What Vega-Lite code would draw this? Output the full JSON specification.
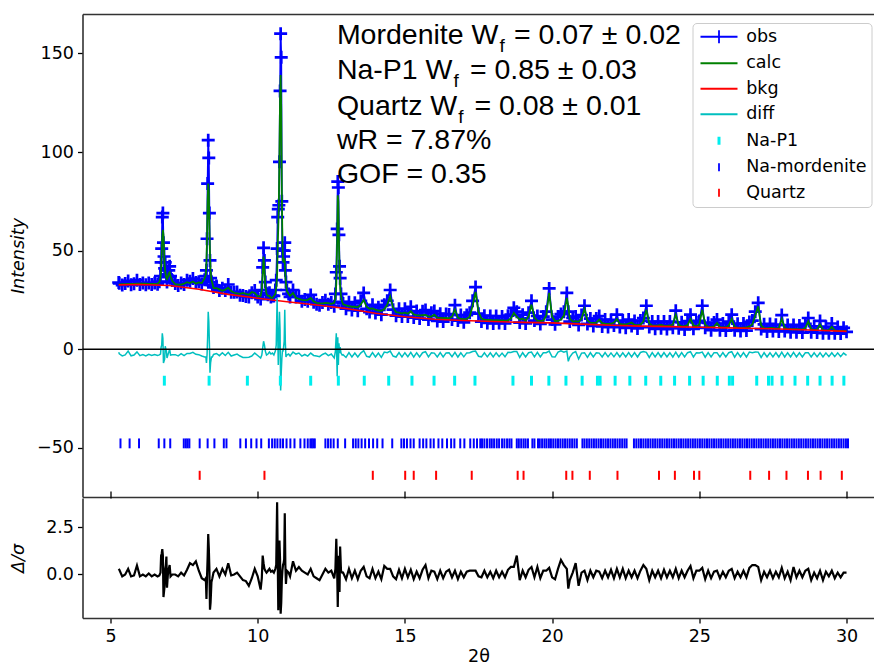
{
"$schema":"https://vega.github.io/schema/vega-lite/v6.json",
"padding":{"left":9.5,"top":14,"right":0,"bottom":0},
"background":"white",
"spacing":-7,
"datasets":{
"pat":[
{"t":5.28,"o":33.8,"c":32.9,"d":-1.6,"r":0.3},{"t":5.3,"o":33.4,"c":32.9,"d":-2.4,"r":0.25},{"t":5.4,"o":32.5,"c":33.0,"d":-3.4,"r":-0.1},{"t":5.5,"o":33.3,"c":33.0,"d":-2.9,"r":0.0},{"t":5.6,"o":34.6,"c":33.1,"d":-1.0,"r":0.3},{"t":5.7,"o":32.7,"c":33.1,"d":-3.4,"r":-0.1},{"t":5.8,"o":33.2,"c":33.1,"d":-3.0,"r":-0.05},{"t":5.9,"o":35.0,"c":33.2,"d":-1.4,"r":0.48},{"t":6.0,"o":32.8,"c":33.2,"d":-3.3,"r":-0.1},{"t":6.1,"o":33.5,"c":33.2,"d":-2.8,"r":0.0},{"t":6.2,"o":32.7,"c":33.2,"d":-3.4,"r":-0.1},{"t":6.3,"o":33.6,"c":33.1,"d":-2.6,"r":0.05},{"t":6.4,"o":32.8,"c":33.1,"d":-3.2,"r":-0.1},{"t":6.5,"o":33.5,"c":33.1,"d":-2.7,"r":0.0},{"t":6.6,"o":32.9,"c":33.2,"d":-3.2,"r":-0.1},
{"t":6.66,"o":34.2,"c":34.0,"d":-2.9,"r":-0.05},{"t":6.70,"o":37.0,"c":36.5,"d":-2.5,"r":0.1},{"t":6.72,"o":44.0,"c":41.0,"d":1.0,"r":1.0},{"t":6.74,"o":51.0,"c":48.0,"d":2.0,"r":1.1},{"t":6.76,"o":67.0,"c":57.0,"d":8.0,"r":1.35},{"t":6.78,"o":69.0,"c":60.5,"d":5.5,"r":1.0},{"t":6.80,"o":54.0,"c":58.0,"d":-7.0,"r":-1.2},{"t":6.82,"o":47.0,"c":50.0,"d":-6.0,"r":-0.9},{"t":6.84,"o":41.0,"c":43.0,"d":-5.0,"r":-0.6},{"t":6.86,"o":44.0,"c":39.5,"d":1.5,"r":0.3},{"t":6.88,"o":40.0,"c":37.5,"d":0.0,"r":0.5},{"t":6.90,"o":38.0,"c":36.0,"d":-1.0,"r":0.95},{"t":6.92,"o":34.0,"c":35.5,"d":-4.5,"r":-0.7},{"t":6.95,"o":36.5,"c":36.5,"d":-3.0,"r":0.0},{"t":6.98,"o":40.0,"c":38.5,"d":-1.5,"r":0.3},{"t":7.01,"o":42.0,"c":39.0,"d":0.0,"r":0.5},{"t":7.04,"o":37.0,"c":37.0,"d":-3.0,"r":-0.1},
{"t":7.1,"o":34.8,"c":34.5,"d":-2.8,"r":0.0},{"t":7.2,"o":33.3,"c":33.0,"d":-2.8,"r":0.0},{"t":7.3,"o":32.3,"c":32.8,"d":-3.4,"r":-0.1},{"t":7.4,"o":33.5,"c":32.7,"d":-2.3,"r":0.1},{"t":7.5,"o":32.8,"c":33.2,"d":-3.3,"r":-0.05},{"t":7.6,"o":35.0,"c":34.0,"d":-2.2,"r":0.25},{"t":7.7,"o":34.5,"c":33.5,"d":-2.2,"r":0.6},{"t":7.8,"o":35.8,"c":34.3,"d":-1.6,"r":0.5},{"t":7.9,"o":33.8,"c":33.2,"d":-2.6,"r":0.7},{"t":8.0,"o":34.2,"c":33.8,"d":-2.8,"r":0.2},{"t":8.1,"o":33.0,"c":33.5,"d":-3.5,"r":-0.2},{"t":8.2,"o":35.2,"c":36.0,"d":-4.0,"r":-0.3},
{"t":8.24,"o":37.0,"c":38.0,"d":-4.0,"r":-0.2},{"t":8.26,"o":40.0,"c":44.0,"d":-7.0,"r":-1.3},{"t":8.28,"o":56.0,"c":56.0,"d":-3.0,"r":-0.1},{"t":8.30,"o":84.0,"c":75.0,"d":6.0,"r":0.9},{"t":8.32,"o":106.0,"c":84.0,"d":19.0,"r":2.15},{"t":8.34,"o":97.0,"c":80.0,"d":14.0,"r":1.4},{"t":8.36,"o":69.0,"c":63.0,"d":3.0,"r":0.3},{"t":8.38,"o":45.0,"c":48.0,"d":-12.0,"r":-1.87},{"t":8.40,"o":36.0,"c":40.0,"d":-7.0,"r":-1.5},{"t":8.43,"o":34.0,"c":35.0,"d":-4.0,"r":-0.4},{"t":8.46,"o":32.5,"c":33.5,"d":-4.0,"r":-0.2},
{"t":8.5,"o":31.3,"c":31.0,"d":-2.7,"r":0.1},{"t":8.6,"o":32.0,"c":31.0,"d":-2.2,"r":0.3},{"t":8.7,"o":29.8,"c":30.3,"d":-3.3,"r":-0.1},{"t":8.8,"o":30.9,"c":29.6,"d":-1.8,"r":0.3},{"t":8.9,"o":29.8,"c":30.2,"d":-3.2,"r":0.0},{"t":9.0,"o":32.8,"c":31.2,"d":-1.6,"r":0.6},{"t":9.1,"o":28.8,"c":29.5,"d":-3.5,"r":-0.05},{"t":9.2,"o":28.9,"c":28.6,"d":-3.0,"r":0.0},{"t":9.3,"o":29.0,"c":28.3,"d":-2.5,"r":0.1},{"t":9.4,"o":27.3,"c":28.0,"d":-3.5,"r":-0.1},{"t":9.5,"o":27.2,"c":28.5,"d":-4.2,"r":-0.3},{"t":9.6,"o":26.7,"c":28.0,"d":-4.2,"r":-0.35},{"t":9.7,"o":26.4,"c":27.6,"d":-4.1,"r":-0.6},{"t":9.8,"o":28.6,"c":29.0,"d":-3.5,"r":-0.2},{"t":9.9,"o":29.7,"c":28.5,"d":-2.0,"r":0.3},{"t":10.0,"o":26.5,"c":26.8,"d":-3.2,"r":-0.1},{"t":10.1,"o":25.4,"c":27.0,"d":-4.5,"r":-0.8},
{"t":10.14,"o":30.0,"c":30.0,"d":-3.0,"r":-0.2},{"t":10.17,"o":41.5,"c":38.0,"d":0.5,"r":1.0},{"t":10.20,"o":51.4,"c":47.0,"d":4.0,"r":0.6},{"t":10.23,"o":45.0,"c":40.0,"d":2.0,"r":0.3},{"t":10.26,"o":34.0,"c":32.0,"d":-1.0,"r":0.2},{"t":10.3,"o":28.3,"c":28.0,"d":-3.0,"r":0.1},{"t":10.35,"o":27.6,"c":27.0,"d":-2.5,"r":0.2},{"t":10.4,"o":28.6,"c":27.0,"d":-1.5,"r":0.3},{"t":10.45,"o":26.4,"c":26.0,"d":-2.5,"r":0.15},{"t":10.5,"o":27.1,"c":26.0,"d":-2.0,"r":0.2},{"t":10.55,"o":27.0,"c":27.0,"d":-3.0,"r":0.1},{"t":10.6,"o":30.0,"c":28.0,"d":-1.0,"r":0.3},
{"t":10.63,"o":35.0,"c":31.0,"d":2.0,"r":0.5},{"t":10.66,"o":51.0,"c":38.0,"d":26.0,"r":3.83},{"t":10.68,"o":67.0,"c":52.0,"d":8.0,"r":1.0},{"t":10.70,"o":71.0,"c":62.0,"d":-8.0,"r":-1.9},{"t":10.72,"o":73.0,"c":75.0,"d":5.0,"r":0.5},{"t":10.74,"o":95.0,"c":100.0,"d":19.0,"r":1.8},{"t":10.76,"o":131.0,"c":128.0,"d":10.0,"r":0.8},{"t":10.78,"o":160.0,"c":139.0,"d":-21.0,"r":-2.08},{"t":10.80,"o":148.0,"c":122.0,"d":-12.0,"r":-1.5},{"t":10.82,"o":75.0,"c":80.0,"d":-5.0,"r":-0.3},{"t":10.84,"o":50.0,"c":55.0,"d":-1.0,"r":0.2},{"t":10.86,"o":44.0,"c":45.0,"d":-1.0,"r":0.5},{"t":10.88,"o":47.0,"c":44.0,"d":1.0,"r":0.6},{"t":10.90,"o":50.0,"c":46.0,"d":4.0,"r":0.8},{"t":10.92,"o":54.0,"c":44.0,"d":20.0,"r":3.25},{"t":10.94,"o":40.0,"c":38.0,"d":3.0,"r":0.5},{"t":10.96,"o":34.0,"c":33.0,"d":-4.0,"r":-0.5},{"t":10.99,"o":30.0,"c":29.5,"d":-3.0,"r":0.2},
{"t":11.05,"o":28.0,"c":28.0,"d":-2.5,"r":0.1},{"t":11.1,"o":26.5,"c":27.0,"d":-3.5,"r":-0.1},{"t":11.2,"o":30.0,"c":28.5,"d":-1.5,"r":0.7},{"t":11.3,"o":26.5,"c":26.0,"d":-2.5,"r":0.2},{"t":11.4,"o":26.8,"c":25.5,"d":-2.0,"r":0.4},{"t":11.5,"o":24.3,"c":25.0,"d":-3.5,"r":0.2},{"t":11.6,"o":25.2,"c":24.7,"d":-2.7,"r":0.1},{"t":11.7,"o":24.3,"c":25.0,"d":-3.5,"r":0.0},{"t":11.8,"o":27.5,"c":26.0,"d":-2.0,"r":0.3},{"t":11.9,"o":23.8,"c":24.2,"d":-3.2,"r":-0.1},{"t":12.0,"o":22.8,"c":23.5,"d":-3.5,"r":-0.2},{"t":12.1,"o":22.3,"c":23.3,"d":-3.8,"r":-0.3},{"t":12.2,"o":23.6,"c":23.2,"d":-2.7,"r":0.0},{"t":12.3,"o":24.8,"c":23.5,"d":-2.0,"r":0.3},{"t":12.4,"o":22.8,"c":23.3,"d":-3.3,"r":0.1},{"t":12.5,"o":23.7,"c":23.0,"d":-2.5,"r":0.2},{"t":12.6,"o":21.8,"c":23.5,"d":-4.5,"r":-0.2},
{"t":12.64,"o":28.0,"c":26.0,"d":-1.0,"r":0.3},{"t":12.67,"o":39.0,"c":33.0,"d":8.0,"r":1.89},{"t":12.70,"o":61.0,"c":55.0,"d":-13.8,"r":0.2},{"t":12.72,"o":85.0,"c":78.0,"d":6.0,"r":-1.73},{"t":12.74,"o":82.0,"c":75.0,"d":-8.0,"r":0.3},{"t":12.76,"o":58.0,"c":55.0,"d":3.0,"r":1.0},{"t":12.78,"o":42.0,"c":40.0,"d":-2.0,"r":-0.93},{"t":12.80,"o":36.0,"c":32.0,"d":1.0,"r":1.48},{"t":12.83,"o":28.0,"c":27.0,"d":-2.0,"r":0.2},{"t":12.87,"o":24.0,"c":24.0,"d":-3.0,"r":0.1},{"t":12.9,"o":23.2,"c":22.8,"d":-2.8,"r":0.1},
{"t":13.0,"o":20.5,"c":22.2,"d":-4.2,"r":-0.25},{"t":13.1,"o":23.8,"c":21.8,"d":-1.8,"r":0.3},{"t":13.2,"o":19.8,"c":21.5,"d":-4.0,"r":-0.2},{"t":13.3,"o":23.5,"c":21.6,"d":-2.0,"r":0.2},{"t":13.4,"o":19.5,"c":21.2,"d":-4.0,"r":-0.25},{"t":13.5,"o":24.5,"c":22.5,"d":-2.0,"r":0.2},{"t":13.6,"o":28.5,"c":25.0,"d":-0.8,"r":0.4},{"t":13.7,"o":20.5,"c":21.5,"d":-3.6,"r":-0.1},{"t":13.8,"o":18.8,"c":20.5,"d":-4.0,"r":-0.2},{"t":13.9,"o":22.5,"c":20.6,"d":-1.8,"r":0.3},{"t":14.0,"o":18.3,"c":20.0,"d":-4.0,"r":-0.2},{"t":14.1,"o":21.3,"c":19.6,"d":-2.0,"r":0.15},{"t":14.2,"o":17.5,"c":19.4,"d":-4.2,"r":-0.25},{"t":14.3,"o":22.5,"c":20.2,"d":-1.5,"r":0.45},{"t":14.4,"o":24.5,"c":22.5,"d":-1.8,"r":0.3},{"t":14.5,"o":30.0,"c":26.8,"d":-1.0,"r":0.3},{"t":14.6,"o":20.0,"c":21.0,"d":-3.5,"r":-0.1},{"t":14.7,"o":17.0,"c":18.8,"d":-4.0,"r":-0.25},{"t":14.8,"o":20.5,"c":18.5,"d":-1.8,"r":0.25},{"t":14.9,"o":16.5,"c":18.2,"d":-4.0,"r":-0.2},
{"t":15.0,"o":20.5,"c":18.5,"d":-1.8,"r":0.3},{"t":15.1,"o":16.5,"c":18.0,"d":-3.8,"r":-0.15},{"t":15.2,"o":21.5,"c":19.2,"d":-1.6,"r":0.25},{"t":15.3,"o":16.0,"c":17.6,"d":-4.0,"r":-0.25},{"t":15.4,"o":19.3,"c":17.3,"d":-1.8,"r":0.15},{"t":15.5,"o":15.5,"c":17.1,"d":-3.9,"r":-0.2},{"t":15.6,"o":19.2,"c":17.2,"d":-1.8,"r":0.25},{"t":15.7,"o":19.8,"c":17.3,"d":-1.3,"r":0.5},{"t":15.8,"o":15.0,"c":16.6,"d":-3.9,"r":-0.2},{"t":15.9,"o":18.5,"c":16.5,"d":-1.8,"r":0.2},{"t":16.0,"o":19.3,"c":17.5,"d":-2.0,"r":0.15},{"t":16.1,"o":14.3,"c":16.0,"d":-4.0,"r":-0.25},{"t":16.2,"o":18.0,"c":15.9,"d":-1.8,"r":0.2},{"t":16.3,"o":14.0,"c":15.7,"d":-4.0,"r":-0.2},{"t":16.4,"o":17.8,"c":15.8,"d":-1.9,"r":0.15},{"t":16.5,"o":17.6,"c":15.6,"d":-1.8,"r":0.25},{"t":16.6,"o":15.0,"c":16.5,"d":-3.8,"r":-0.15},{"t":16.7,"o":22.3,"c":20.0,"d":-1.6,"r":0.2},{"t":16.8,"o":14.5,"c":16.0,"d":-4.0,"r":-0.25},{"t":16.9,"o":17.3,"c":15.3,"d":-1.9,"r":0.15},
{"t":17.0,"o":13.6,"c":15.2,"d":-3.9,"r":-0.15},{"t":17.1,"o":17.3,"c":15.3,"d":-1.9,"r":0.15},{"t":17.2,"o":18.5,"c":16.5,"d":-1.8,"r":0.2},{"t":17.3,"o":24.5,"c":22.0,"d":-1.2,"r":0.2},{"t":17.4,"o":31.5,"c":29.0,"d":-1.0,"r":0.2},{"t":17.5,"o":18.0,"c":19.0,"d":-3.6,"r":-0.1},{"t":17.6,"o":14.0,"c":15.5,"d":-3.9,"r":-0.15},{"t":17.7,"o":17.0,"c":15.0,"d":-1.8,"r":0.2},{"t":17.8,"o":13.3,"c":14.8,"d":-3.9,"r":-0.15},{"t":17.9,"o":16.8,"c":14.8,"d":-1.9,"r":0.15},{"t":18.0,"o":13.0,"c":14.6,"d":-4.0,"r":-0.2},{"t":18.1,"o":16.8,"c":14.7,"d":-1.8,"r":0.2},{"t":18.2,"o":13.2,"c":14.6,"d":-3.8,"r":-0.15},{"t":18.3,"o":16.5,"c":14.6,"d":-2.0,"r":0.15},{"t":18.4,"o":13.0,"c":14.5,"d":-3.9,"r":-0.15},{"t":18.5,"o":17.0,"c":14.6,"d":-1.6,"r":0.25},{"t":18.6,"o":17.5,"c":15.5,"d":-1.7,"r":0.4},{"t":18.7,"o":21.0,"c":18.4,"d":-1.2,"r":0.4},{"t":18.8,"o":19.0,"c":16.5,"d":-1.2,"r":1.0},{"t":18.9,"o":13.5,"c":15.0,"d":-4.2,"r":-0.3},
{"t":19.0,"o":17.5,"c":15.5,"d":-1.8,"r":0.2},{"t":19.1,"o":13.0,"c":14.5,"d":-3.9,"r":-0.15},{"t":19.2,"o":18.5,"c":16.5,"d":-1.8,"r":0.25},{"t":19.3,"o":24.5,"c":22.6,"d":-1.5,"r":0.4},{"t":19.4,"o":14.5,"c":16.0,"d":-3.9,"r":-0.15},{"t":19.5,"o":16.8,"c":14.5,"d":-1.6,"r":0.4},{"t":19.6,"o":12.8,"c":14.3,"d":-3.9,"r":-0.2},{"t":19.7,"o":16.5,"c":14.5,"d":-1.8,"r":0.2},{"t":19.8,"o":19.0,"c":17.0,"d":-1.8,"r":0.2},{"t":19.9,"o":30.8,"c":28.5,"d":-1.0,"r":0.35},{"t":20.0,"o":15.0,"c":16.5,"d":-3.9,"r":-0.15},{"t":20.1,"o":12.6,"c":14.2,"d":-4.0,"r":-0.25},{"t":20.2,"o":16.5,"c":14.3,"d":-1.5,"r":0.3},{"t":20.3,"o":17.8,"c":15.0,"d":-0.8,"r":0.77},{"t":20.4,"o":19.0,"c":17.0,"d":-1.5,"r":0.5},{"t":20.5,"o":28.5,"c":26.0,"d":-1.0,"r":0.3},{"t":20.55,"o":19.0,"c":22.0,"d":-6.2,"r":-0.75},{"t":20.6,"o":14.0,"c":15.5,"d":-4.0,"r":-0.3},{"t":20.7,"o":15.8,"c":14.0,"d":-2.0,"r":0.1},{"t":20.8,"o":16.5,"c":14.2,"d":-1.2,"r":0.6},{"t":20.9,"o":12.3,"c":14.0,"d":-5.0,"r":-0.6},
{"t":21.0,"o":17.3,"c":15.5,"d":-2.0,"r":0.1},{"t":21.1,"o":22.0,"c":20.4,"d":-1.8,"r":0.2},{"t":21.2,"o":12.8,"c":14.5,"d":-4.2,"r":-0.3},{"t":21.3,"o":15.5,"c":13.4,"d":-1.8,"r":0.2},{"t":21.4,"o":11.8,"c":13.3,"d":-3.9,"r":-0.15},{"t":21.5,"o":15.5,"c":13.5,"d":-1.8,"r":0.2},{"t":21.6,"o":16.8,"c":15.0,"d":-2.0,"r":0.15},{"t":21.7,"o":11.5,"c":13.2,"d":-4.0,"r":-0.2},{"t":21.8,"o":15.0,"c":12.9,"d":-1.7,"r":0.2},{"t":21.9,"o":11.2,"c":12.8,"d":-3.9,"r":-0.15},{"t":22.0,"o":14.8,"c":12.9,"d":-1.9,"r":0.25},{"t":22.1,"o":12.0,"c":13.5,"d":-3.9,"r":-0.2},{"t":22.2,"o":17.5,"c":15.3,"d":-1.7,"r":0.3},{"t":22.3,"o":11.2,"c":12.8,"d":-3.9,"r":-0.15},{"t":22.4,"o":14.5,"c":12.5,"d":-1.8,"r":0.3},{"t":22.5,"o":10.8,"c":12.5,"d":-4.0,"r":-0.2},{"t":22.6,"o":15.0,"c":13.0,"d":-1.8,"r":0.2},{"t":22.7,"o":11.8,"c":13.5,"d":-4.0,"r":-0.15},{"t":22.8,"o":14.3,"c":12.3,"d":-1.8,"r":0.2},{"t":22.9,"o":10.5,"c":12.2,"d":-4.0,"r":-0.2},
{"t":23.0,"o":14.5,"c":12.4,"d":-1.7,"r":0.2},{"t":23.1,"o":15.8,"c":14.0,"d":-1.2,"r":0.5},{"t":23.2,"o":22.0,"c":20.0,"d":-1.6,"r":0.3},{"t":23.3,"o":11.2,"c":13.0,"d":-4.2,"r":-0.3},{"t":23.4,"o":14.0,"c":12.0,"d":-1.8,"r":0.2},{"t":23.5,"o":10.3,"c":11.9,"d":-4.0,"r":-0.15},{"t":23.6,"o":14.0,"c":12.0,"d":-1.8,"r":0.2},{"t":23.7,"o":10.6,"c":12.3,"d":-4.0,"r":-0.2},{"t":23.8,"o":14.0,"c":11.9,"d":-1.7,"r":0.25},{"t":23.9,"o":10.2,"c":11.8,"d":-3.9,"r":-0.15},{"t":24.0,"o":14.0,"c":12.0,"d":-1.8,"r":0.2},{"t":24.1,"o":10.8,"c":12.5,"d":-4.0,"r":-0.15},{"t":24.2,"o":19.5,"c":17.5,"d":-1.5,"r":0.3},{"t":24.3,"o":10.6,"c":12.3,"d":-4.0,"r":-0.2},{"t":24.4,"o":13.6,"c":11.6,"d":-1.8,"r":0.2},{"t":24.5,"o":10.0,"c":11.7,"d":-4.0,"r":-0.15},{"t":24.6,"o":14.2,"c":12.2,"d":-1.8,"r":0.2},{"t":24.7,"o":17.5,"c":15.3,"d":-1.3,"r":0.45},{"t":24.8,"o":10.3,"c":12.0,"d":-4.0,"r":-0.2},{"t":24.9,"o":13.6,"c":11.6,"d":-1.8,"r":0.2},
{"t":25.0,"o":14.3,"c":12.5,"d":-2.0,"r":0.2},{"t":25.1,"o":22.0,"c":20.0,"d":-1.5,"r":0.35},{"t":25.2,"o":10.8,"c":12.5,"d":-4.1,"r":-0.25},{"t":25.3,"o":13.3,"c":11.3,"d":-1.8,"r":0.2},{"t":25.4,"o":9.6,"c":11.2,"d":-4.0,"r":-0.2},{"t":25.5,"o":13.5,"c":11.5,"d":-1.8,"r":0.15},{"t":25.6,"o":15.0,"c":13.3,"d":-1.8,"r":0.2},{"t":25.7,"o":9.6,"c":11.2,"d":-4.0,"r":-0.2},{"t":25.8,"o":13.0,"c":11.0,"d":-1.8,"r":0.15},{"t":25.9,"o":9.4,"c":11.0,"d":-4.0,"r":-0.15},{"t":26.0,"o":14.0,"c":12.0,"d":-1.8,"r":0.2},{"t":26.1,"o":17.5,"c":15.3,"d":-1.3,"r":0.3},{"t":26.2,"o":9.6,"c":11.3,"d":-4.1,"r":-0.2},{"t":26.3,"o":12.9,"c":10.9,"d":-1.8,"r":0.15},{"t":26.4,"o":9.2,"c":10.8,"d":-4.0,"r":-0.15},{"t":26.5,"o":13.0,"c":10.9,"d":-1.8,"r":0.2},{"t":26.6,"o":9.4,"c":11.0,"d":-4.0,"r":-0.15},{"t":26.7,"o":13.8,"c":11.5,"d":-1.5,"r":0.35},{"t":26.8,"o":14.5,"c":12.5,"d":-1.8,"r":0.5},{"t":26.9,"o":19.0,"c":17.0,"d":-1.4,"r":0.5},
{"t":27.0,"o":23.5,"c":21.7,"d":-1.5,"r":0.4},{"t":27.1,"o":10.2,"c":12.0,"d":-4.2,"r":-0.3},{"t":27.2,"o":12.6,"c":10.6,"d":-1.8,"r":0.15},{"t":27.3,"o":9.0,"c":10.5,"d":-3.9,"r":-0.15},{"t":27.4,"o":12.8,"c":10.8,"d":-1.8,"r":0.2},{"t":27.5,"o":9.2,"c":10.8,"d":-4.0,"r":-0.2},{"t":27.6,"o":12.4,"c":10.4,"d":-1.8,"r":0.15},{"t":27.7,"o":9.0,"c":10.6,"d":-4.0,"r":-0.15},{"t":27.8,"o":17.3,"c":15.3,"d":-1.5,"r":0.35},{"t":27.9,"o":9.2,"c":10.8,"d":-4.0,"r":-0.2},{"t":28.0,"o":12.2,"c":10.2,"d":-1.8,"r":0.15},{"t":28.1,"o":8.6,"c":10.1,"d":-3.9,"r":-0.3},{"t":28.2,"o":12.3,"c":10.2,"d":-1.6,"r":0.4},{"t":28.3,"o":8.6,"c":10.1,"d":-3.9,"r":-0.15},{"t":28.4,"o":12.0,"c":10.0,"d":-1.8,"r":0.2},{"t":28.5,"o":8.4,"c":10.0,"d":-3.9,"r":-0.15},{"t":28.6,"o":12.8,"c":10.8,"d":-1.8,"r":0.2},{"t":28.7,"o":15.8,"c":14.1,"d":-1.8,"r":0.3},{"t":28.8,"o":8.6,"c":10.2,"d":-4.0,"r":-0.3},{"t":28.9,"o":11.6,"c":9.7,"d":-1.9,"r":0.1},
{"t":29.0,"o":8.4,"c":10.0,"d":-3.9,"r":-0.2},{"t":29.1,"o":14.3,"c":12.5,"d":-1.8,"r":0.2},{"t":29.2,"o":8.1,"c":9.7,"d":-4.0,"r":-0.3},{"t":29.3,"o":11.4,"c":9.5,"d":-1.9,"r":0.15},{"t":29.4,"o":8.1,"c":9.6,"d":-3.8,"r":-0.1},{"t":29.5,"o":13.0,"c":11.3,"d":-1.8,"r":0.2},{"t":29.6,"o":8.0,"c":9.5,"d":-3.8,"r":-0.2},{"t":29.7,"o":11.2,"c":9.3,"d":-1.9,"r":0.1},{"t":29.8,"o":7.9,"c":9.3,"d":-3.8,"r":-0.15},{"t":29.9,"o":10.8,"c":9.2,"d":-2.0,"r":0.1},{"t":30.0,"o":8.8,"c":9.1,"d":-3.2,"r":0.1}
],
"bkg":[{"t":5.28,"b":32.6},{"t":6,"b":32.8},{"t":7,"b":32.3},{"t":8,"b":30.4},{"t":9,"b":27.8},{"t":10,"b":25.8},{"t":11,"b":24.0},{"t":12,"b":22.4},{"t":13,"b":20.6},{"t":14,"b":18.2},{"t":15,"b":16.4},{"t":16,"b":15.2},{"t":17,"b":14.5},{"t":18,"b":14.0},{"t":19,"b":13.6},{"t":20,"b":13.3},{"t":21,"b":12.7},{"t":22,"b":12.1},{"t":23,"b":11.7},{"t":24,"b":11.4},{"t":25,"b":11.1},{"t":26,"b":10.8},{"t":27,"b":10.5},{"t":28,"b":10.1},{"t":29,"b":9.6},{"t":30,"b":9.0}],
"p1":[{"t":6.83},{"t":8.35},{"t":9.65},{"t":10.77},{"t":11.80},{"t":12.74},{"t":13.62},{"t":14.45},{"t":15.24},{"t":15.99},{"t":16.69},{"t":17.38},{"t":18.67},{"t":19.30},{"t":19.89},{"t":20.47},{"t":21.02},{"t":21.54},{"t":21.63},{"t":22.14},{"t":22.64},{"t":23.18},{"t":23.69},{"t":24.16},{"t":24.67},{"t":25.13},{"t":25.61},{"t":26.02},{"t":26.13},{"t":26.95},{"t":27.35},{"t":27.47},{"t":27.81},{"t":28.25},{"t":28.68},{"t":29.10},{"t":29.51},{"t":29.91}],
"qz":[{"t":8.03},{"t":10.23},{"t":13.91},{"t":15.01},{"t":15.30},{"t":16.06},{"t":17.27},{"t":18.83},{"t":19.03},{"t":20.48},{"t":20.69},{"t":21.28},{"t":22.22},{"t":23.63},{"t":24.17},{"t":24.82},{"t":25.00},{"t":26.73},{"t":27.37},{"t":27.96},{"t":28.69},{"t":29.12},{"t":29.84}],
"mor":[{"t":5.34},{"t":5.65},{"t":5.97},{"t":6.64},{"t":6.83},{"t":7.03},{"t":7.49},{"t":7.56},{"t":7.62},{"t":7.68},{"t":8.03},{"t":8.30},{"t":8.53},{"t":8.85},{"t":8.94},{"t":9.41},{"t":9.60},{"t":9.78},{"t":9.96},{"t":10.12},{"t":10.38},{"t":10.49},{"t":10.58},{"t":10.67},{"t":10.77},{"t":10.86},{"t":10.98},{"t":11.11},{"t":11.25},{"t":11.45},{"t":11.59},{"t":11.70},{"t":11.79},{"t":11.84},{"t":11.89},{"t":11.94},{"t":12.30},{"t":12.39},{"t":12.48},{"t":12.58},{"t":12.72},{"t":12.97},{"t":13.24},{"t":13.33},{"t":13.42},{"t":13.53},{"t":13.65},{"t":13.78},{"t":13.92},{"t":14.06},{"t":14.24},{"t":14.57},{"t":14.88},{"t":14.97},{"t":15.07},{"t":15.19},{"t":15.30},{"t":15.50},{"t":15.62},{"t":15.73},{"t":15.87},{"t":15.98},{"t":16.14},{"t":16.27},{"t":16.43},{"t":16.57},{"t":16.68},{"t":16.88},{"t":17.02},{"t":17.22},{"t":17.34},{"t":17.45},{"t":17.56},{"t":17.62},{"t":17.70},{"t":17.79},{"t":17.88},{"t":17.95},{"t":18.03},{"t":18.12},{"t":18.20},{"t":18.30},{"t":18.38},{"t":18.47},{"t":18.55},{"t":18.62},{"t":18.80},{"t":18.87},{"t":18.95},{"t":19.03},{"t":19.10},{"t":19.18},{"t":19.33},{"t":19.40},{"t":19.52},{"t":19.58},{"t":19.66},{"t":19.74},{"t":19.81},{"t":19.89},{"t":19.96},{"t":20.04},{"t":20.12},{"t":20.20},{"t":20.28},{"t":20.36},{"t":20.44},{"t":20.52},{"t":20.60},{"t":20.68},{"t":20.76},{"t":20.84},{"t":21.03},{"t":21.10},{"t":21.18},{"t":21.26},{"t":21.34},{"t":21.42},{"t":21.50},{"t":21.58},{"t":21.66},{"t":21.74},{"t":21.82},{"t":21.90},{"t":21.98},{"t":22.06},{"t":22.14},{"t":22.22},{"t":22.30},{"t":22.38},{"t":22.46},{"t":22.53},{"t":22.78},{"t":22.86},{"t":22.94},{"t":23.02},{"t":23.10},{"t":23.18},{"t":23.26},{"t":23.34},{"t":23.42},{"t":23.50},{"t":23.58},{"t":23.66},{"t":23.74},{"t":23.82},{"t":23.90},{"t":23.98},{"t":24.06},{"t":24.14},{"t":24.22},{"t":24.30},{"t":24.38},{"t":24.46},{"t":24.54},{"t":24.62},{"t":24.70},{"t":24.78},{"t":24.86},{"t":24.94},{"t":25.02},{"t":25.10},{"t":25.18},{"t":25.26},{"t":25.34},{"t":25.42},{"t":25.50},{"t":25.58},{"t":25.66},{"t":25.74},{"t":25.82},{"t":25.90},{"t":25.98},{"t":26.06},{"t":26.14},{"t":26.22},{"t":26.30},{"t":26.38},{"t":26.46},{"t":26.54},{"t":26.62},{"t":26.70},{"t":26.78},{"t":26.86},{"t":26.94},{"t":27.02},{"t":27.10},{"t":27.18},{"t":27.26},{"t":27.34},{"t":27.42},{"t":27.50},{"t":27.58},{"t":27.66},{"t":27.74},{"t":27.82},{"t":27.90},{"t":27.98},{"t":28.06},{"t":28.14},{"t":28.22},{"t":28.30},{"t":28.38},{"t":28.46},{"t":28.54},{"t":28.62},{"t":28.70},{"t":28.78},{"t":28.86},{"t":28.94},{"t":29.02},{"t":29.10},{"t":29.18},{"t":29.26},{"t":29.34},{"t":29.42},{"t":29.50},{"t":29.58},{"t":29.66},{"t":29.74},{"t":29.82},{"t":29.90},{"t":29.98},{"t":30.05}]
},
"config":{
"view":{"stroke":null},
"axis":{"labelFont":"DejaVu Sans","labelFontSize":17.5,"labelColor":"#000000","titleFont":"DejaVu Sans","titleFontSize":17.5,"titleFontWeight":"normal","titleColor":"#000000","grid":false,"domainColor":"#333333","domainWidth":1.6,"tickColor":"#000000","tickWidth":1.3,"tickSize":5,"labelPadding":4},
"axisY":{"minExtent":40,"maxExtent":40,"titlePadding":15}
},
"resolve":{"scale":{"color":"independent"},"legend":{"color":"independent"}},
"vconcat":[
{"width":792,"height":483,
"resolve":{"axis":{"x":"independent"}},
"layer":[
{"data":{"name":"pat"},"mark":{"type":"line","strokeWidth":1.8,"clip":true},
"encoding":{
"x":{"field":"t","type":"quantitative","scale":{"domain":[4.05,30.95],"nice":false,"zero":false},"axis":{"orient":"bottom","labels":false,"ticks":false,"title":null,"domain":true}},
"y":{"field":"o","type":"quantitative","scale":{"domain":[-75,170],"nice":false,"zero":false},"axis":{"orient":"left","title":"Intensity","titleFontStyle":"italic","values":[-50,0,50,100,150]}},
"color":{"datum":"obs","scale":{"domain":["obs","calc","bkg","diff","Na-P1","Na-mordenite","Quartz"],"range":["#0000ff","#008000","#ff0000","#00bfbf","#00eeee","#0000ff","#ff0000"]},
"legend":{"orient":"none","legendX":610,"legendY":9,"title":null,"padding":5,"rowPadding":6.5,"symbolSize":100,"symbolOffset":12.75,"labelOffset":18.5,"labelFont":"DejaVu Sans","labelFontSize":17.5,"labelColor":"#000000","strokeColor":"#cccccc","fillColor":"#ffffff","cornerRadius":4,"symbolStrokeWidth":1.6,
"encode":{"symbols":{"update":{
"shape":{"signal":"datum.value==='obs'?'M-3.7,0H3.7M0,-1.3V1.3':((datum.value==='calc'||datum.value==='bkg'||datum.value==='diff')?'M-3.7,0H3.7':'M-3.7,0M0,-0.8V0.8M3.7,0')"},
"stroke":{"signal":"datum.value==='obs'?'#0000ff':datum.value==='calc'?'#008000':datum.value==='bkg'?'#ff0000':datum.value==='diff'?'#00bfbf':datum.value==='Na-P1'?'#00eeee':datum.value==='Na-mordenite'?'#0000ff':'#ff0000'"},
"strokeWidth":{"signal":"datum.value==='Na-P1'?3:1.8"},
"fill":{"value":"transparent"},
"opacity":{"value":1}}}}}}
}},
{"data":{"name":"pat"},"mark":{"type":"point","shape":"M-1,0H1M0,-1V1","filled":false,"size":169,"strokeWidth":2.7,"opacity":1,"clip":true},
"encoding":{
"x":{"field":"t","type":"quantitative","axis":{"orient":"top","labels":false,"ticks":false,"title":null,"domain":true}},
"y":{"field":"o","type":"quantitative"},
"color":{"datum":"obs"}}},
{"data":{"name":"pat"},"mark":{"type":"line","strokeWidth":1.8,"clip":true},
"encoding":{"x":{"field":"t","type":"quantitative","axis":null},"y":{"field":"c","type":"quantitative"},"color":{"datum":"calc"}}},
{"data":{"name":"bkg"},"mark":{"type":"line","strokeWidth":1.6,"clip":true},
"encoding":{"x":{"field":"t","type":"quantitative","axis":null},"y":{"field":"b","type":"quantitative"},"color":{"datum":"bkg"}}},
{"data":{"name":"pat"},"mark":{"type":"line","strokeWidth":1.5,"clip":true},
"encoding":{"x":{"field":"t","type":"quantitative","axis":null},"y":{"field":"d","type":"quantitative"},"color":{"datum":"diff"}}},
{"data":{"values":[{}]},"mark":{"type":"rule","color":"#000000","strokeWidth":1.5},
"encoding":{"y":{"datum":0}}},
{"data":{"name":"p1"},"mark":{"type":"rule","strokeWidth":3},
"encoding":{"x":{"field":"t","type":"quantitative","axis":null},"y":{"datum":-13.5},"y2":{"datum":-18.5},"color":{"datum":"Na-P1"}}},
{"data":{"name":"mor"},"mark":{"type":"rule","strokeWidth":2},
"encoding":{"x":{"field":"t","type":"quantitative","axis":null},"y":{"datum":-45.3},"y2":{"datum":-50.3},"color":{"datum":"Na-mordenite"}}},
{"data":{"name":"qz"},"mark":{"type":"rule","strokeWidth":2},
"encoding":{"x":{"field":"t","type":"quantitative","axis":null},"y":{"datum":-61.7},"y2":{"datum":-66.3},"color":{"datum":"Quartz"}}},
{"data":{"values":[{}]},"mark":{"type":"text","text":"Mordenite W","font":"Liberation Sans","fontSize":28.5,"align":"left","baseline":"alphabetic","color":"#000000"},
"encoding":{"x":{"datum":12.69,"axis":null},"y":{"datum":154.6}}},
{"data":{"values":[{}]},"mark":{"type":"text","text":"f","font":"Liberation Sans","fontSize":19,"align":"left","baseline":"alphabetic","dx":162.5,"dy":8,"color":"#000000"},
"encoding":{"x":{"datum":12.69,"axis":null},"y":{"datum":154.6}}},
{"data":{"values":[{}]},"mark":{"type":"text","text":"= 0.07 ± 0.02","font":"Liberation Sans","fontSize":28.5,"align":"left","baseline":"alphabetic","dx":177,"color":"#000000"},
"encoding":{"x":{"datum":12.69,"axis":null},"y":{"datum":154.6}}},
{"data":{"values":[{}]},"mark":{"type":"text","text":"Na-P1 W","font":"Liberation Sans","fontSize":28.5,"align":"left","baseline":"alphabetic","color":"#000000"},
"encoding":{"x":{"datum":12.69,"axis":null},"y":{"datum":136.8}}},
{"data":{"values":[{}]},"mark":{"type":"text","text":"f","font":"Liberation Sans","fontSize":19,"align":"left","baseline":"alphabetic","dx":116.6,"dy":8,"color":"#000000"},
"encoding":{"x":{"datum":12.69,"axis":null},"y":{"datum":136.8}}},
{"data":{"values":[{}]},"mark":{"type":"text","text":"= 0.85 ± 0.03","font":"Liberation Sans","fontSize":28.5,"align":"left","baseline":"alphabetic","dx":133,"color":"#000000"},
"encoding":{"x":{"datum":12.69,"axis":null},"y":{"datum":136.8}}},
{"data":{"values":[{}]},"mark":{"type":"text","text":"Quartz W","font":"Liberation Sans","fontSize":28.5,"align":"left","baseline":"alphabetic","color":"#000000"},
"encoding":{"x":{"datum":12.69,"axis":null},"y":{"datum":119.0}}},
{"data":{"values":[{}]},"mark":{"type":"text","text":"f","font":"Liberation Sans","fontSize":19,"align":"left","baseline":"alphabetic","dx":121.4,"dy":8,"color":"#000000"},
"encoding":{"x":{"datum":12.69,"axis":null},"y":{"datum":119.0}}},
{"data":{"values":[{}]},"mark":{"type":"text","text":"= 0.08 ± 0.01","font":"Liberation Sans","fontSize":28.5,"align":"left","baseline":"alphabetic","dx":137.5,"color":"#000000"},
"encoding":{"x":{"datum":12.69,"axis":null},"y":{"datum":119.0}}},
{"data":{"values":[{}]},"mark":{"type":"text","text":"wR = 7.87%","font":"Liberation Sans","fontSize":28.5,"align":"left","baseline":"alphabetic","color":"#000000"},
"encoding":{"x":{"datum":12.69,"axis":null},"y":{"datum":101.3}}},
{"data":{"values":[{}]},"mark":{"type":"text","text":"GOF = 0.35","font":"Liberation Sans","fontSize":28.5,"align":"left","baseline":"alphabetic","color":"#000000"},
"encoding":{"x":{"datum":12.69,"axis":null},"y":{"datum":84.4}}}
]},
{"width":792,"height":120,
"data":{"name":"pat"},
"resolve":{"axis":{"x":"independent"}},
"layer":[
{"mark":{"type":"line","color":"#000000","strokeWidth":2.2,"clip":true},
"encoding":{
"x":{"field":"t","type":"quantitative","scale":{"domain":[4.05,30.95],"nice":false,"zero":false},"axis":{"orient":"bottom","title":"2θ","titlePadding":3,"values":[5,10,15,20,25,30],"format":"d"}},
"y":{"field":"r","type":"quantitative","scale":{"domain":[-2.31,4.06],"nice":false,"zero":false},"axis":{"orient":"left","title":"Δ/σ","titleFontStyle":"italic","values":[0,2.5],"format":".1f"}}
}},
{"mark":{"type":"line","color":"#000000","strokeWidth":1,"opacity":0,"clip":true},
"encoding":{
"x":{"field":"t","type":"quantitative","axis":{"orient":"top","labels":false,"title":null,"domain":false,"ticks":true,"tickSize":7,"values":[5,10,15,20,25,30]}},
"y":{"field":"r","type":"quantitative"}
}}
]}
]
}
